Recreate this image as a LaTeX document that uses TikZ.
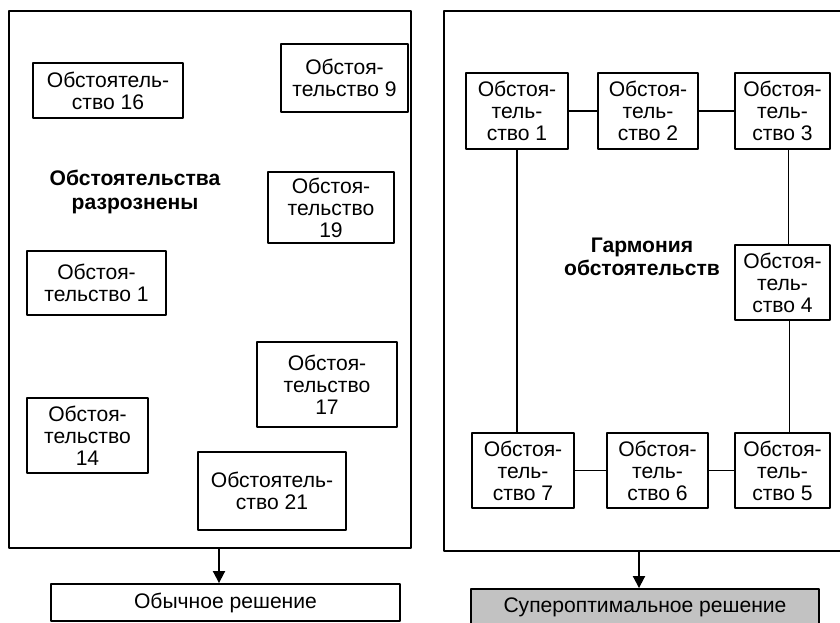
\documentclass[tikz,border=0pt]{standalone}
\usepackage{fontspec}
\setmainfont{Liberation Sans}
\usetikzlibrary{arrows.meta,calc}
\tikzset{
  fact/.style={draw, line width=1.6pt, align=center, inner sep=0pt,
    font=\fontsize{18}{18.8}\selectfont},
  headline/.style={align=center, font=\fontsize{18}{19.8}\selectfont\bfseries},
  panel/.style={draw, line width=1.6pt, inner sep=0pt},
  link/.style={line width=1.4pt},
  feed/.style={line width=1.6pt, -{Triangle[length=3.6mm,width=3.6mm]}},
  result/.style={draw, line width=1.6pt, inner sep=0pt, minimum width=104.5mm,
    minimum height=11.1mm, font=\fontsize{18}{18.8}\selectfont}
}

\begin{document}
\begin{tikzpicture}[x=0.3mm, y=-0.3mm, line cap=round, line join=round]
  \clip (0,0) rectangle (840,623);

  % Left panel: scattered circumstances.
  \node[panel, minimum width=120.6mm, minimum height=161.1mm]
    (leftpanel) at (210,279.5) {};
  \node[fact, minimum width=45mm, minimum height=16.5mm]
    (f16) at (108,90.5) {Обстоятель-\\ство 16};
  \node[fact, minimum width=38.1mm, minimum height=20.4mm]
    (f9) at (344.5,78) {Обстоя-\\тельство 9};
  \node[fact, minimum width=37.8mm, minimum height=21.3mm]
    (f19) at (331,207.5) {Обстоя-\\тельство\\19};
  \node[fact, minimum width=41.7mm, minimum height=19.2mm]
    (f1) at (96.5,283) {Обстоя-\\тельство 1};
  \node[fact, minimum width=42mm, minimum height=25.5mm]
    (f17) at (327,384.5) {Обстоя-\\тельство\\17};
  \node[fact, minimum width=36.3mm, minimum height=22.5mm]
    (f14) at (87.5,435.5) {Обстоя-\\тельство\\14};
  \node[fact, minimum width=44.4mm, minimum height=23.4mm]
    (f21) at (272,491) {Обстоятель-\\ство 21};
  \node[headline] (scattered) at (135,192) {Обстоятельства\\разрознены};

  \node[result] (usual) at (225.5,602.5) {Обычное решение};
  \coordinate (leftout) at (219,548);
  \draw[feed] (leftout) -- (leftout |- usual.north);

  % Right panel: a closed ring of circumstances.
  \node[panel, minimum width=120.3mm, minimum height=162mm]
    (rightpanel) at (644.5,281) {};
  \foreach \name/\x/\y/\w/\num in {
      h1/517/111/30.6/1, h2/648/111/30/2, h3/782.5/111/28.5/3,
      h4/782.5/282.5/28.5/4, h5/782.5/470.5/28.5/5,
      h6/657.5/470.5/30.3/6, h7/523/470.5/30.6/7}
    \node[fact, minimum width=\w mm, minimum height=22.6mm]
      (\name) at (\x,\y) {Обстоя-\\тель-\\ство \num};
  \node[headline] (harmony) at (642,257) {Гармония\\обстоятельств};

  \draw[link] (h1) -- (h2);
  \draw[link] (h2) -- (h3);
  \draw[link] ($(h3.south)+(6,0)$) -- ($(h4.north)+(6,0)$);
  \draw[link] ($(h4.south)+(7,0)$) -- ($(h5.north)+(7,0)$);
  \draw[link] (h5) -- (h6);
  \draw[link] (h6) -- (h7);
  \draw[link] (h1.south) -- (h1.south |- h7.north);

  \node[result, fill=black!24, minimum width=104.4mm]
    (superopt) at (645,607.5) {Супероптимальное решение};
  \coordinate (rightout) at (639,551);
  \draw[feed] (rightout) -- (rightout |- superopt.north);
\end{tikzpicture}
\end{document}
